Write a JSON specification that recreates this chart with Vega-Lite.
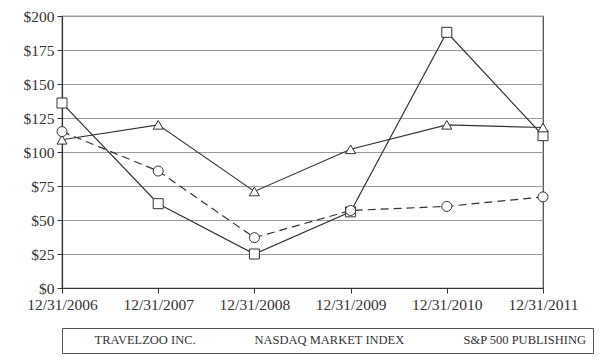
{
  "$schema": "https://vega.github.io/schema/vega-lite/v6.json",
  "autosize": "none",
  "width": 481,
  "height": 272,
  "padding": {"left": 62, "top": 16, "right": 66, "bottom": 69},
  "background": "white",
  "config": {
    "font": "Liberation Serif",
    "view": {"stroke": "#444", "strokeWidth": 1.2},
    "axis": {"labelFont": "Liberation Serif", "labelFontSize": 15.5, "labelColor": "#333", "domainColor": "#333", "tickColor": "#333", "titleFont": "Liberation Serif"}
  },
  "data": {
    "values": [
      {"date": "12/31/2006", "series": "TRAVELZOO INC.", "value": 136},
      {"date": "12/31/2007", "series": "TRAVELZOO INC.", "value": 62},
      {"date": "12/31/2008", "series": "TRAVELZOO INC.", "value": 25},
      {"date": "12/31/2009", "series": "TRAVELZOO INC.", "value": 56},
      {"date": "12/31/2010", "series": "TRAVELZOO INC.", "value": 188},
      {"date": "12/31/2011", "series": "TRAVELZOO INC.", "value": 112},
      {"date": "12/31/2006", "series": "NASDAQ MARKET INDEX", "value": 109},
      {"date": "12/31/2007", "series": "NASDAQ MARKET INDEX", "value": 120},
      {"date": "12/31/2008", "series": "NASDAQ MARKET INDEX", "value": 71},
      {"date": "12/31/2009", "series": "NASDAQ MARKET INDEX", "value": 102},
      {"date": "12/31/2010", "series": "NASDAQ MARKET INDEX", "value": 120},
      {"date": "12/31/2011", "series": "NASDAQ MARKET INDEX", "value": 118},
      {"date": "12/31/2006", "series": "S&P 500 PUBLISHING", "value": 115},
      {"date": "12/31/2007", "series": "S&P 500 PUBLISHING", "value": 86},
      {"date": "12/31/2008", "series": "S&P 500 PUBLISHING", "value": 37},
      {"date": "12/31/2009", "series": "S&P 500 PUBLISHING", "value": 57},
      {"date": "12/31/2010", "series": "S&P 500 PUBLISHING", "value": 60},
      {"date": "12/31/2011", "series": "S&P 500 PUBLISHING", "value": 67}
    ]
  },
  "encoding": {
    "x": {
      "field": "date", "type": "ordinal",
      "scale": {"type": "point", "padding": 0},
      "axis": {"title": null, "labelAngle": 0, "tickSize": 5, "labelPadding": 4, "domainWidth": 1.2}
    },
    "y": {
      "field": "value", "type": "quantitative",
      "scale": {"domain": [0, 200]},
      "axis": {"title": null, "values": [0, 25, 50, 75, 100, 125, 150, 175, 200], "labelExpr": "'$' + datum.value", "gridColor": "#999", "gridWidth": 1.2, "tickSize": 5, "labelPadding": 3, "domainWidth": 1.2}
    }
  },
  "layer": [
    {
      "transform": [{"filter": "datum.series !== 'S&P 500 PUBLISHING'"}],
      "mark": {"type": "line", "color": "#333", "strokeWidth": 1.2},
      "encoding": {"detail": {"field": "series"}}
    },
    {
      "transform": [{"filter": "datum.series === 'S&P 500 PUBLISHING'"}],
      "mark": {"type": "line", "color": "#333", "strokeWidth": 1.2, "strokeDash": [8, 5]},
      "encoding": {"detail": {"field": "series"}}
    },
    {
      "mark": {"type": "point", "filled": false, "fill": "white", "fillOpacity": 1, "stroke": "#333", "strokeWidth": 1, "opacity": 1, "size": 100},
      "encoding": {
        "shape": {
          "field": "series", "type": "nominal",
          "scale": {"domain": ["TRAVELZOO INC.", "NASDAQ MARKET INDEX", "S&P 500 PUBLISHING"], "range": ["square", "triangle-up", "circle"]},
          "legend": {
            "title": null,
            "orient": "none",
            "direction": "horizontal",
            "legendX": 0,
            "legendY": 312,
            "columns": 3,
            "columnPadding": 32,
            "labelFont": "Liberation Serif",
            "labelFontSize": 12.5,
            "labelColor": "#333",
            "labelOffset": 14,
            "symbolSize": 40,
            "symbolStrokeWidth": 1,
            "symbolStrokeColor": "#333",
            "symbolFillColor": "white",
            "symbolOpacity": 1,
            "padding": 6,
            "strokeColor": "#555",
            "fillColor": "white"
          }
        }
      }
    }
  ]
}
